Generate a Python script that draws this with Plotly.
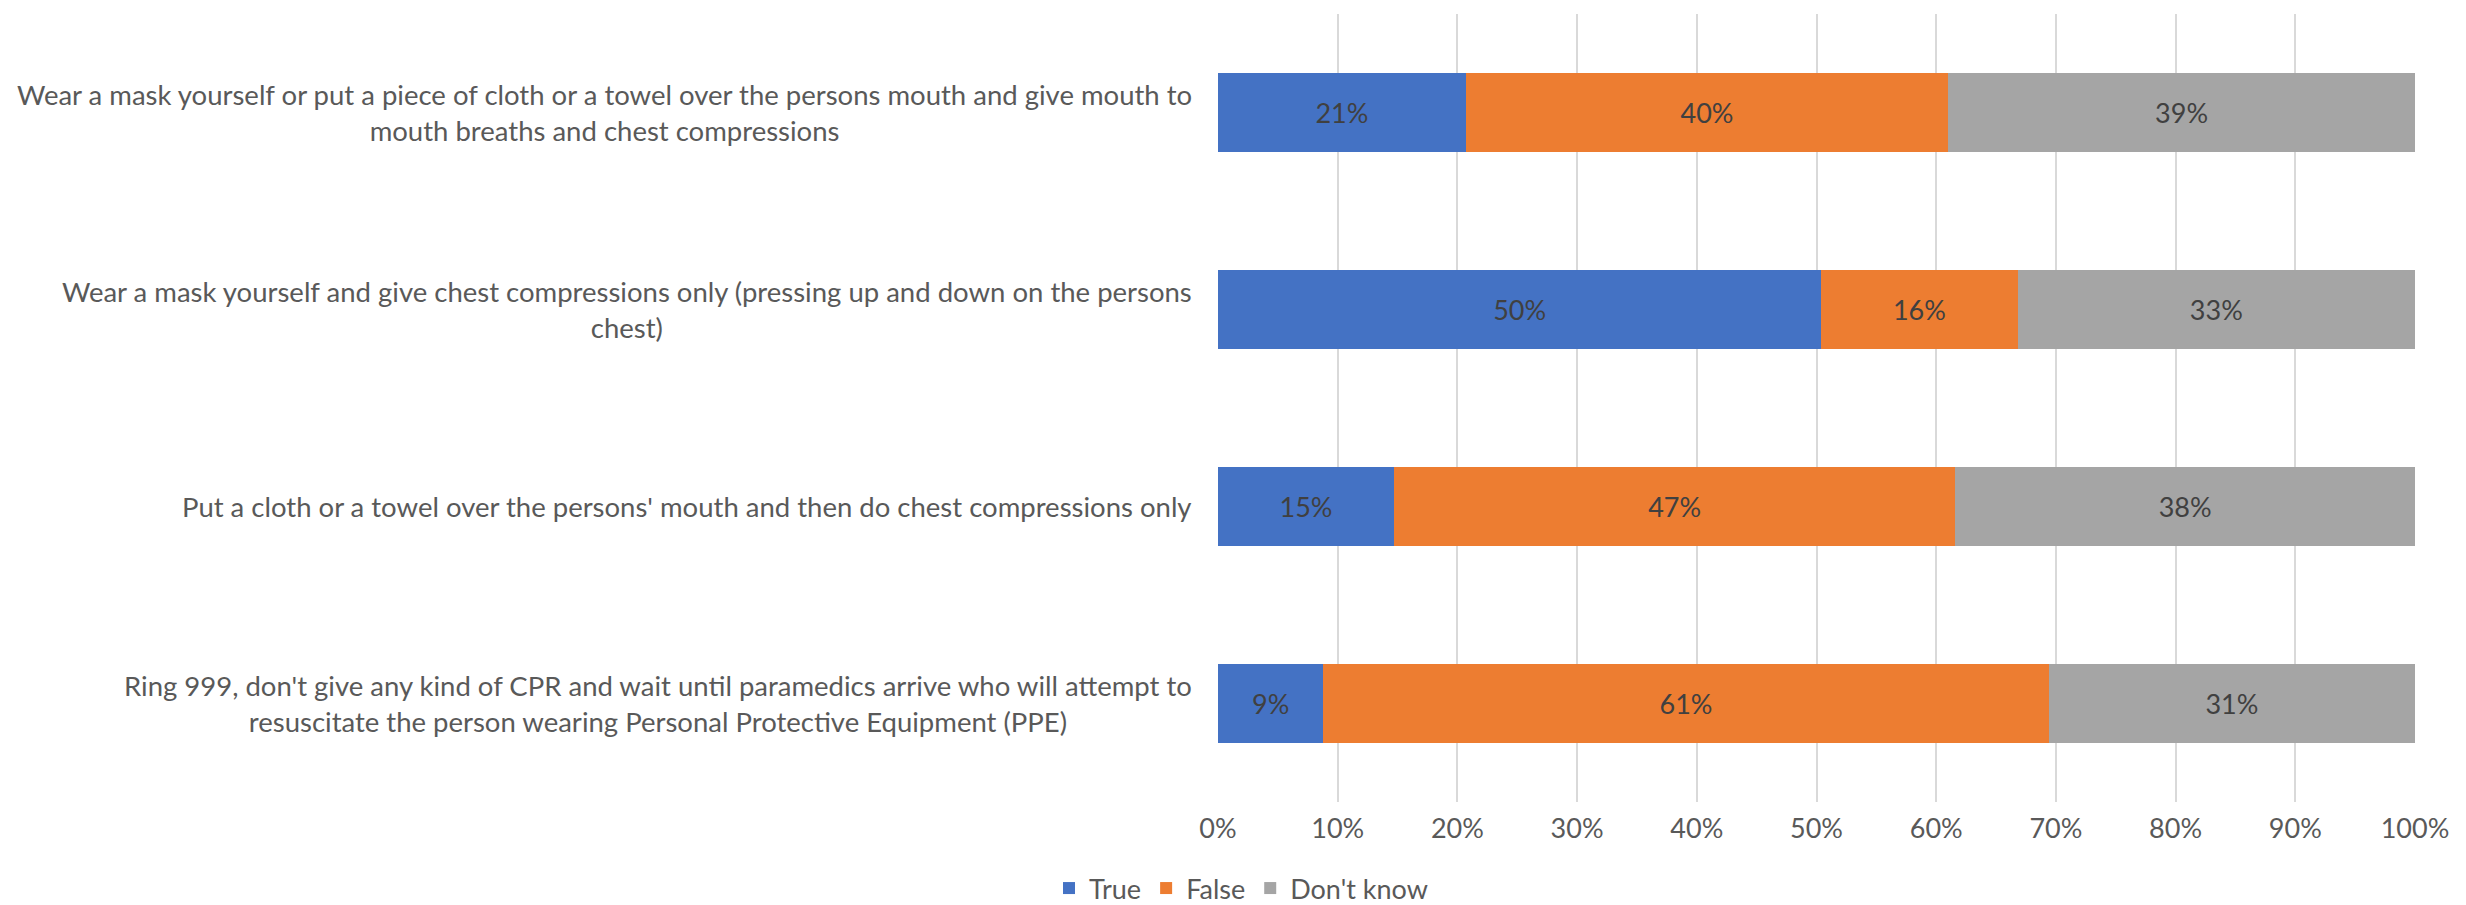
import plotly.graph_objects as go

categories = [
    "Wear a mask yourself or put a piece of cloth or a towel over the persons mouth and give mouth to<br>mouth breaths and chest compressions",
    "Wear a mask yourself and give chest compressions only (pressing up and down on the persons<br>chest)",
    "Put a cloth or a towel over the persons' mouth and then do chest compressions only",
    "Ring 999, don't give any kind of CPR and wait until paramedics arrive who will attempt to<br>resuscitate the person wearing Personal Protective Equipment (PPE)",
]
true_vals = [20.7, 50.4, 14.7, 8.8]
false_vals = [40.3, 16.4, 46.9, 60.6]
dontknow_vals = [39.0, 33.2, 38.4, 30.6]
series_names = ["True", "False", "Don't know"]
colors = ["#4472C4", "#ED7D31", "#A5A5A5"]
x_ticks = [0, 10, 20, 30, 40, 50, 60, 70, 80, 90, 100]
x_tick_labels = ["0%", "10%", "20%", "30%", "40%", "50%", "60%", "70%", "80%", "90%", "100%"]

FONT = "Lato"
FS = 27
FS_CAT = 27.5

fig = go.Figure()
for name, vals, col in zip(series_names, [true_vals, false_vals, dontknow_vals], colors):
    fig.add_trace(go.Bar(
        y=categories, x=vals, name=name, orientation="h",
        marker=dict(color=col, line=dict(width=0)),
        texttemplate="%{x:.0f}%", textposition="inside", insidetextanchor="middle",
        textfont=dict(family=FONT, size=FS, color="#404040"),
        constraintext="none", cliponaxis=False,
    ))

for c in categories:
    fig.add_annotation(
        x=0, xref="paper", y=c, yref="y", text=c, showarrow=False,
        xanchor="right", yanchor="middle", align="center", xshift=-24,
        font=dict(family=FONT, size=FS_CAT, color="#595959"),
    )

fig.update_layout(
    barmode="stack", bargap=0.6,
    width=2466, height=905,
    margin=dict(l=1210, r=59, t=6, b=111, autoexpand=False),
    paper_bgcolor="white", plot_bgcolor="white",
    font=dict(family=FONT, size=FS, color="#595959"),
    legend=dict(orientation="h", x=0.5, xref="container", xanchor="center",
                y=-8 / 905, yref="container", yanchor="bottom",
                font=dict(family=FONT, size=FS, color="#595959"),
                itemwidth=30, traceorder="normal"),
    xaxis=dict(range=[0, 100], tickmode="array", tickvals=x_ticks, ticktext=x_tick_labels,
               showgrid=True, gridcolor="#D9D9D9", gridwidth=1.5,
               zeroline=False, showline=False,
               ticks="", ticklabelstandoff=8,
               tickfont=dict(family=FONT, size=FS, color="#595959")),
    yaxis=dict(categoryorder="array", categoryarray=categories, autorange="reversed",
               showticklabels=False, showgrid=False, zeroline=False, showline=False),
)

fig.write_html("out.html")
